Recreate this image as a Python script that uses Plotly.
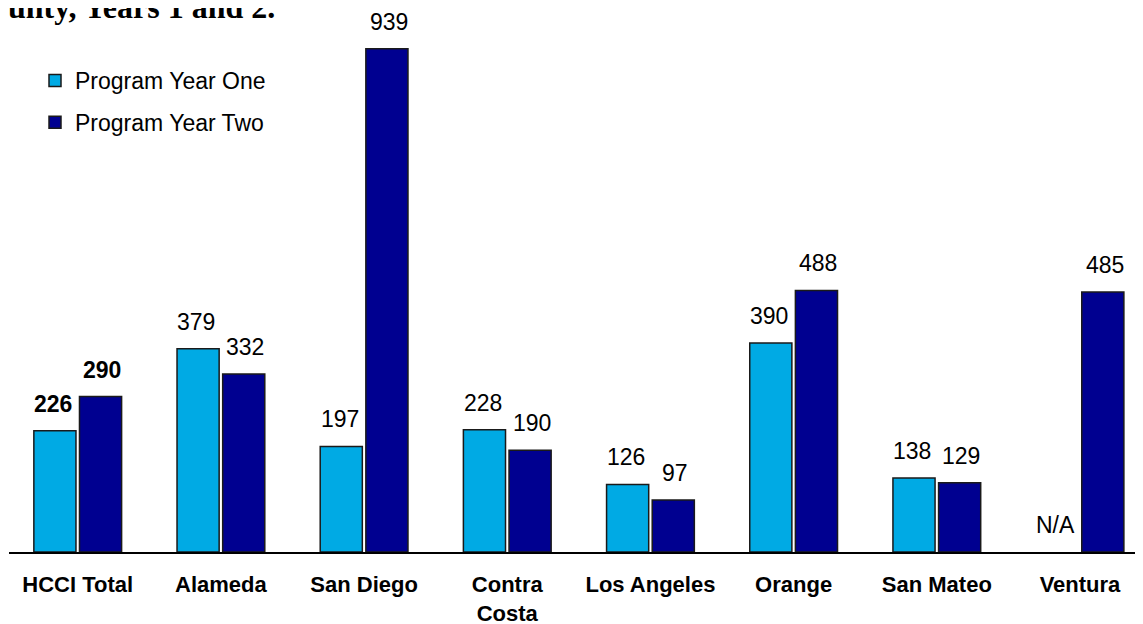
import plotly.graph_objects as go

# 数据
counties = ["HCCI Total", "Alameda", "San Diego", "Contra<br>Costa", "Los Angeles",
            "Orange", "San Mateo", "Ventura"]
year_one = [226, 379, 197, 228, 126, 390, 138, None]
year_two = [290, 332, 939, 190, 97, 488, 129, 485]
series_names = ["Program Year One", "Program Year Two"]
colors = ["#00AAE4", "#000090"]

FONT = "Arial, Liberation Sans, sans-serif"

# 页面 body 自带 8px 边距，图尺寸相应缩小
W, H = 1135, 616
L, B = 1, 72
PW, PH = W - L, H - B

fig = go.Figure()
for name, vals, col in zip(series_names, [year_one, year_two], colors):
    fig.add_trace(go.Bar(x=counties, y=vals, name=name, legendgroup=name,
                         marker=dict(color=col, line=dict(color="#1a1a1a", width=1.5))))

# 数值标签（HCCI Total 加粗，缺失值写 N/A）
offsets = [-24.5, 24.5]
for vals, dx in zip([year_one, year_two], offsets):
    for i, (c, v) in enumerate(zip(counties, vals)):
        label = "N/A" if v is None else str(v)
        if i == 0:
            label = f"<b>{label}</b>"
        fig.add_annotation(x=c, y=0 if v is None else v, text=label,
                           showarrow=False, xshift=dx, yshift=27, yanchor="middle",
                           font=dict(family=FONT, size=23, color="black"))

# 被截断的标题
fig.add_annotation(xref="paper", yref="paper", x=0, y=1, xshift=268, yshift=-19,
                   xanchor="right", yanchor="bottom", showarrow=False,
                   text="<b>by County, Years 1 and 2.</b>",
                   font=dict(family="Times New Roman, Liberation Serif, serif", size=32,
                             color="black"))

fig.update_layout(
    width=W, height=H,
    margin=dict(l=L, r=0, t=0, b=B, autoexpand=False),
    plot_bgcolor="white", paper_bgcolor="white",
    barmode="group", bargap=0.3625, bargroupgap=0.077,
    font=dict(family=FONT, size=23, color="black"),
    showlegend=True,
    legend=dict(x=26 / PW, y=1 - 51 / PH, xanchor="left", yanchor="top",
                traceorder="grouped", tracegroupgap=9,
                font=dict(family=FONT, size=23, color="black"),
                bgcolor="rgba(0,0,0,0)"),
    xaxis=dict(range=[-0.48, 7.44], showline=True, linecolor="black", linewidth=1.5,
               ticks="", showgrid=False, ticklabelstandoff=12, automargin=False,
               tickfont=dict(family=FONT, size=22, color="black", weight="bold")),
    yaxis=dict(range=[0, PH / 0.536], visible=False, showgrid=False, automargin=False),
)

fig.write_html("out.html")
